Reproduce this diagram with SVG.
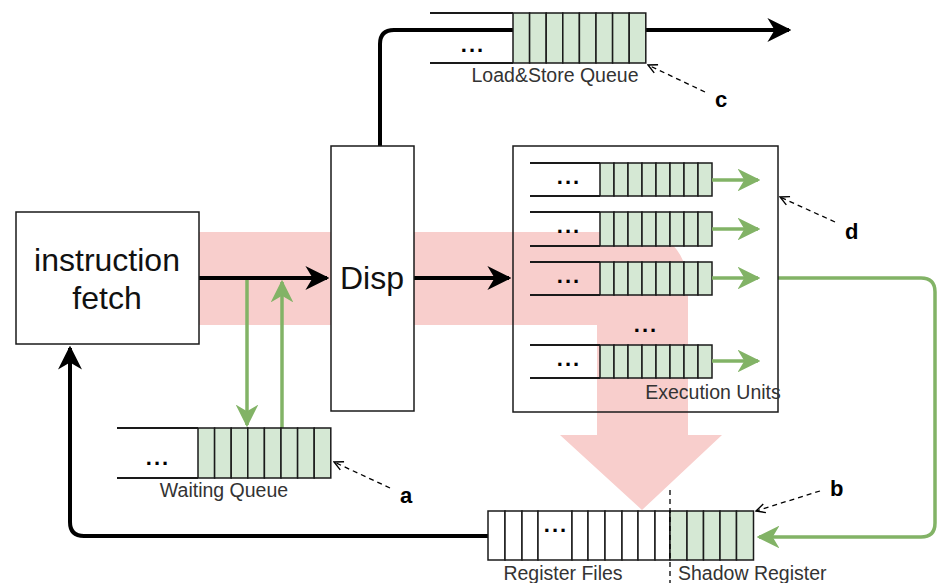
<svg xmlns="http://www.w3.org/2000/svg" width="937" height="583" viewBox="0 0 937 583">
  <defs>
    <style>
      .qline { stroke: #1a1a1a; stroke-width: 2; fill: none; }
      .cell { fill: #d5e8d4; stroke: #1a1a1a; stroke-width: 1.5; }
      .wcell { fill: #ffffff; stroke: #1a1a1a; stroke-width: 1.5; }
      .box { fill: #ffffff; stroke: #1a1a1a; stroke-width: 1.5; }
      .dots { font-family: "Liberation Sans", Arial, sans-serif; font-size: 22px; font-weight: bold; letter-spacing: 2px; fill: #000; text-anchor: middle; }
      .lbl { font-family: "Liberation Sans", Arial, sans-serif; font-size: 19.5px; fill: #333; }
      .tag { font-family: "Liberation Sans", Arial, sans-serif; font-size: 22px; font-weight: bold; fill: #000; }
      .big { font-family: "Liberation Sans", Arial, sans-serif; font-size: 32px; fill: #111; text-anchor: middle; }
      .blk { stroke: #000; stroke-width: 4; fill: none; }
      .grn { stroke: #82b366; stroke-width: 3.5; fill: none; }
      .dash { stroke: #000; stroke-width: 1.3; stroke-dasharray: 5 4; fill: none; }
    </style>
    <marker id="ab" viewBox="0 0 10 10" refX="9" refY="5" markerWidth="6" markerHeight="6" markerUnits="strokeWidth" orient="auto">
      <path d="M0,0 L10,5 L0,10 L3,5 Z" fill="#000"/>
    </marker>
    <marker id="ag" viewBox="0 0 10 10" refX="9" refY="5" markerWidth="6.5" markerHeight="6.5" markerUnits="strokeWidth" orient="auto">
      <path d="M0,0 L10,5 L0,10 L3,5 Z" fill="#82b366"/>
    </marker>
    <marker id="ao" viewBox="0 0 12 12" refX="11" refY="6" markerWidth="12" markerHeight="12" markerUnits="userSpaceOnUse" orient="auto">
      <path d="M2,1.5 L11,6 L2,10.5" fill="none" stroke="#000" stroke-width="1.4"/>
    </marker>
  </defs>

  <rect width="937" height="583" fill="#ffffff"/>

  <!-- dataflow band: fetch through dispatch into the units, then down to the register file -->
  <path id="flow-band" d="M199,232 H632 Q688,232 688,290 V435 H722 L642,510 L560,435 H597 V325 H199 Z" fill="#f8cecc"/>

  <g id="connectors">
    <!-- fetch -> dispatch -> units -->
    <line class="blk" x1="199" y1="278" x2="327" y2="278" marker-end="url(#ab)"/>
    <line class="blk" x1="414" y1="278" x2="509" y2="278" marker-end="url(#ab)"/>
    <!-- dispatch -> load/store queue -> out -->
    <path class="blk" d="M380,146 V44 Q380,30 394,30 H513"/>
    <line class="blk" x1="646" y1="30" x2="789" y2="30" marker-end="url(#ab)"/>
    <!-- register file -> fetch -->
    <path class="blk" d="M488,536 H84 Q70,536 70,522 V348" marker-end="url(#ab)"/>
    <!-- waiting queue in/out -->
    <line class="grn" x1="247" y1="280" x2="247" y2="425" marker-end="url(#ag)"/>
    <line class="grn" x1="282" y1="428" x2="282" y2="282" marker-end="url(#ag)"/>
    <!-- units -> shadow register -->
    <path class="grn" d="M778,278 H921 Q935,278 935,292 V523 Q935,537 921,537 H759" marker-end="url(#ag)"/>
  </g>

  <g id="instruction-fetch">
    <rect class="box" x="16" y="212" width="183" height="132"/>
    <text class="big" x="107" y="271">instruction</text>
    <text class="big" x="107" y="309">fetch</text>
  </g>

  <g id="disp">
    <rect class="box" x="331" y="146" width="83" height="265"/>
    <text class="big" x="372" y="289">Disp</text>
  </g>

  <g id="load-store-queue">
    <line class="qline" x1="430" y1="13" x2="513" y2="13"/>
    <line class="qline" x1="430" y1="63" x2="513" y2="63"/>
    <rect class="cell" x="513" y="13" width="16.6" height="50"/>
    <rect class="cell" x="529.6" y="13" width="16.6" height="50"/>
    <rect class="cell" x="546.2" y="13" width="16.6" height="50"/>
    <rect class="cell" x="562.8" y="13" width="16.6" height="50"/>
    <rect class="cell" x="579.4" y="13" width="16.6" height="50"/>
    <rect class="cell" x="596" y="13" width="16.6" height="50"/>
    <rect class="cell" x="612.6" y="13" width="16.6" height="50"/>
    <rect class="cell" x="629.2" y="13" width="16.6" height="50"/>
    <text class="dots" x="473" y="52">...</text>
    <text class="lbl" x="555" y="82" text-anchor="middle">Load&amp;Store Queue</text>
    <text class="tag" x="715" y="107">c</text>
  </g>

  <g id="execution-units">
    <rect x="513" y="146" width="265" height="266" fill="none" stroke="#1a1a1a" stroke-width="1.5"/>
    <g id="eu-row1">
      <line class="qline" x1="530" y1="163" x2="600" y2="163"/>
      <line class="qline" x1="530" y1="196" x2="600" y2="196"/>
      <rect class="cell" x="600" y="163" width="14" height="33"/>
      <rect class="cell" x="614" y="163" width="14" height="33"/>
      <rect class="cell" x="628" y="163" width="14" height="33"/>
      <rect class="cell" x="642" y="163" width="14" height="33"/>
      <rect class="cell" x="656" y="163" width="14" height="33"/>
      <rect class="cell" x="670" y="163" width="14" height="33"/>
      <rect class="cell" x="684" y="163" width="14" height="33"/>
      <rect class="cell" x="698" y="163" width="14" height="33"/>
      <text class="dots" x="569" y="184">...</text>
      <line class="grn" x1="712" y1="180" x2="758" y2="180" marker-end="url(#ag)"/>
    </g>
    <g id="eu-row2">
      <line class="qline" x1="530" y1="212" x2="600" y2="212"/>
      <line class="qline" x1="530" y1="246" x2="600" y2="246"/>
      <rect class="cell" x="600" y="212" width="14" height="34"/>
      <rect class="cell" x="614" y="212" width="14" height="34"/>
      <rect class="cell" x="628" y="212" width="14" height="34"/>
      <rect class="cell" x="642" y="212" width="14" height="34"/>
      <rect class="cell" x="656" y="212" width="14" height="34"/>
      <rect class="cell" x="670" y="212" width="14" height="34"/>
      <rect class="cell" x="684" y="212" width="14" height="34"/>
      <rect class="cell" x="698" y="212" width="14" height="34"/>
      <text class="dots" x="569" y="233">...</text>
      <line class="grn" x1="712" y1="229" x2="758" y2="229" marker-end="url(#ag)"/>
    </g>
    <g id="eu-row3">
      <line class="qline" x1="530" y1="262" x2="600" y2="262"/>
      <line class="qline" x1="530" y1="295" x2="600" y2="295"/>
      <rect class="cell" x="600" y="262" width="14" height="33"/>
      <rect class="cell" x="614" y="262" width="14" height="33"/>
      <rect class="cell" x="628" y="262" width="14" height="33"/>
      <rect class="cell" x="642" y="262" width="14" height="33"/>
      <rect class="cell" x="656" y="262" width="14" height="33"/>
      <rect class="cell" x="670" y="262" width="14" height="33"/>
      <rect class="cell" x="684" y="262" width="14" height="33"/>
      <rect class="cell" x="698" y="262" width="14" height="33"/>
      <text class="dots" x="569" y="283">...</text>
      <line class="grn" x1="712" y1="278" x2="758" y2="278" marker-end="url(#ag)"/>
    </g>
    <text class="dots" x="646" y="332">...</text>
    <g id="eu-row4">
      <line class="qline" x1="530" y1="345" x2="600" y2="345"/>
      <line class="qline" x1="530" y1="378" x2="600" y2="378"/>
      <rect class="cell" x="600" y="345" width="14" height="33"/>
      <rect class="cell" x="614" y="345" width="14" height="33"/>
      <rect class="cell" x="628" y="345" width="14" height="33"/>
      <rect class="cell" x="642" y="345" width="14" height="33"/>
      <rect class="cell" x="656" y="345" width="14" height="33"/>
      <rect class="cell" x="670" y="345" width="14" height="33"/>
      <rect class="cell" x="684" y="345" width="14" height="33"/>
      <rect class="cell" x="698" y="345" width="14" height="33"/>
      <text class="dots" x="569" y="366">...</text>
      <line class="grn" x1="712" y1="361" x2="758" y2="361" marker-end="url(#ag)"/>
    </g>
    <text class="lbl" x="713" y="399" text-anchor="middle">Execution Units</text>
    <text class="tag" x="845" y="239">d</text>
  </g>

  <g id="waiting-queue">
    <line class="qline" x1="117" y1="428" x2="198" y2="428"/>
    <line class="qline" x1="117" y1="478" x2="198" y2="478"/>
    <rect class="cell" x="198" y="428" width="16.6" height="50"/>
    <rect class="cell" x="214.6" y="428" width="16.6" height="50"/>
    <rect class="cell" x="231.2" y="428" width="16.6" height="50"/>
    <rect class="cell" x="247.8" y="428" width="16.6" height="50"/>
    <rect class="cell" x="264.4" y="428" width="16.6" height="50"/>
    <rect class="cell" x="281" y="428" width="16.6" height="50"/>
    <rect class="cell" x="297.6" y="428" width="16.6" height="50"/>
    <rect class="cell" x="314.2" y="428" width="16.6" height="50"/>
    <text class="dots" x="158" y="465">...</text>
    <text class="lbl" x="224" y="497" text-anchor="middle">Waiting Queue</text>
    <text class="tag" x="400" y="503">a</text>
  </g>

  <g id="register-file">
    <rect class="wcell" x="488" y="511" width="17" height="49"/>
    <rect class="wcell" x="505" y="511" width="17" height="49"/>
    <rect class="wcell" x="522" y="511" width="16" height="49"/>
    <rect class="wcell" x="538" y="511" width="34" height="49"/>
    <rect class="wcell" x="572" y="511" width="16" height="49"/>
    <rect class="wcell" x="588" y="511" width="17" height="49"/>
    <rect class="wcell" x="605" y="511" width="17" height="49"/>
    <rect class="wcell" x="622" y="511" width="16" height="49"/>
    <rect class="wcell" x="638" y="511" width="17" height="49"/>
    <rect class="wcell" x="655" y="511" width="15" height="49"/>
    <text class="dots" x="556" y="532">...</text>
    <text class="lbl" x="563" y="580" text-anchor="middle">Register Files</text>
  </g>

  <g id="shadow-register">
    <rect class="cell" x="670" y="511" width="17" height="49"/>
    <rect class="cell" x="687" y="511" width="16.5" height="49"/>
    <rect class="cell" x="703.5" y="511" width="16.5" height="49"/>
    <rect class="cell" x="720" y="511" width="16.5" height="49"/>
    <rect class="cell" x="736.5" y="511" width="17" height="49"/>
    <text class="lbl" x="678" y="580">Shadow Register</text>
    <text class="tag" x="830" y="496">b</text>
  </g>

  <!-- callout leaders and the register/shadow divider -->
  <g id="callouts">
    <line class="dash" x1="705" y1="92" x2="648" y2="65" marker-end="url(#ao)"/>
    <line class="dash" x1="835" y1="222" x2="780" y2="197" marker-end="url(#ao)"/>
    <line class="dash" x1="390" y1="488" x2="334" y2="462" marker-end="url(#ao)"/>
    <line class="dash" x1="820" y1="491" x2="756" y2="511" marker-end="url(#ao)"/>
    <line class="dash" x1="670" y1="490" x2="670" y2="583" stroke-dasharray="4 3"/>
  </g>
</svg>
